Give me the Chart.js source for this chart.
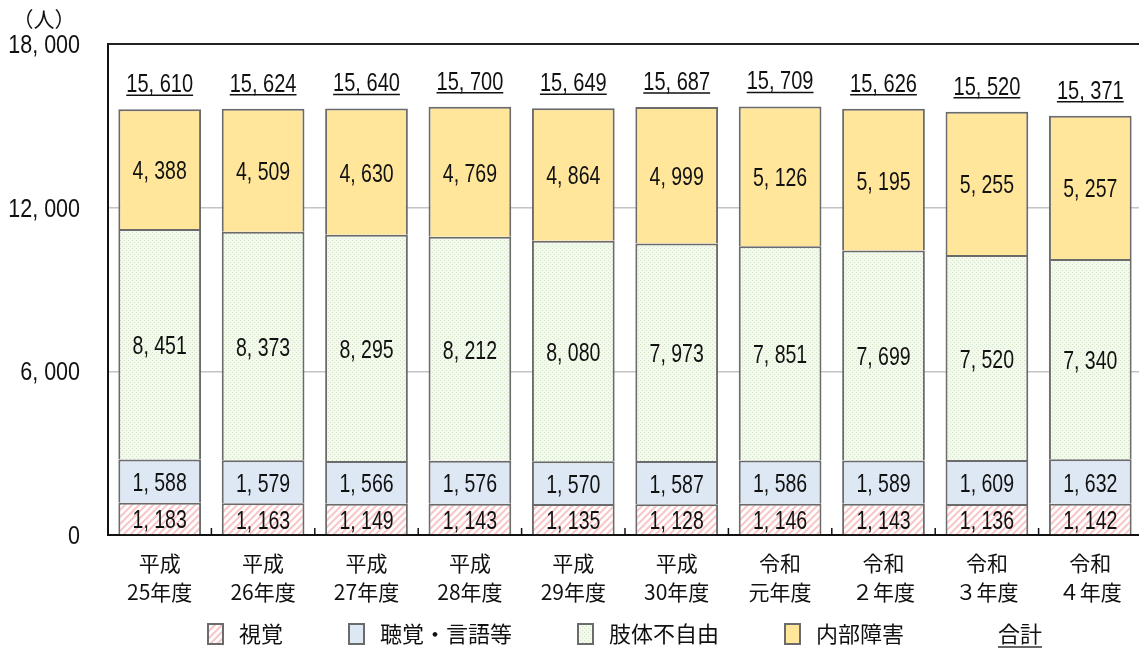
<!DOCTYPE html>
<html lang="ja">
<head>
<meta charset="utf-8">
<script src="https://cdn.jsdelivr.net/npm/chart.js@4"></script>
<style>
  html, body { margin: 0; padding: 0; background: #fff; overflow: hidden; }
  #wrap { width: 1150px; height: 648px; }
</style>
</head>
<body>
<div id="wrap"><canvas id="chart"></canvas></div>
<script>
const years = [
  ['平成', '25年度'], ['平成', '26年度'], ['平成', '27年度'], ['平成', '28年度'],
  ['平成', '29年度'], ['平成', '30年度'], ['令和', '元年度'], ['令和', '２年度'],
  ['令和', '３年度'], ['令和', '４年度'],
]
const sight = [1183, 1163, 1149, 1143, 1135, 1128, 1146, 1143, 1136, 1142]
const hearing = [1588, 1579, 1566, 1576, 1570, 1587, 1586, 1589, 1609, 1632]
const limbs = [8451, 8373, 8295, 8212, 8080, 7973, 7851, 7699, 7520, 7340]
const internal = [4388, 4509, 4630, 4769, 4864, 4999, 5126, 5195, 5255, 5257]
const totals = [15610, 15624, 15640, 15700, 15649, 15687, 15709, 15626, 15520, 15371]
const yTicks = [0, 6000, 12000, 18000]

const NUM_FONT = "'Liberation Sans', Arial, sans-serif"
const JP_FONT = "'Noto Sans CJK JP', sans-serif"
const EDGE = '#6b6b6b'

const canvas = document.getElementById('chart')
const ctx = canvas.getContext('2d')

// small tiles for the hatched / dotted fills
function makePattern(draw, size) {
  const c = document.createElement('canvas')
  c.width = size
  c.height = size
  draw(c.getContext('2d'), size)
  return ctx.createPattern(c, 'repeat')
}
const pinkHatch = makePattern((g, s) => {
  g.fillStyle = '#fff'
  g.fillRect(0, 0, s, s)
  g.strokeStyle = '#f8c6c6'
  g.lineWidth = 2
  g.beginPath()
  g.moveTo(-2, 2); g.lineTo(2, -2)
  g.moveTo(0, s); g.lineTo(s, 0)
  g.moveTo(s - 2, s + 2); g.lineTo(s + 2, s - 2)
  g.stroke()
}, 7)
const greenDots = makePattern((g, s) => {
  g.fillStyle = '#f4f9ef'
  g.fillRect(0, 0, s, s)
  g.fillStyle = '#d2e5c1'
  g.fillRect(0, 0, 1, 1)
  g.fillRect(2, 2, 1, 1)
}, 4)

const fmt = v => {
  const s = String(v)
  return s.length > 3 ? s.slice(0, -3) + ', ' + s.slice(-3) : s
}

// condensed number text: squeeze horizontally around the anchor
function narrowText(c, text, x, y, size, squeeze, align) {
  c.save()
  c.font = size + 'px ' + NUM_FONT
  c.textAlign = align
  c.translate(x, y)
  c.scale(squeeze, 1)
  c.fillText(text, 0, 0)
  const w = c.measureText(text).width * squeeze
  c.restore()
  return w
}

const barStyle = {
  borderColor: EDGE,
  borderWidth: { top: 2, left: 2, right: 2, bottom: 0 },
  borderSkipped: false,
  barPercentage: 0.8,
  categoryPercentage: 1,
}

const data = {
  labels: years,
  datasets: [
    { label: '視覚', data: sight, backgroundColor: pinkHatch, ...barStyle },
    { label: '聴覚・言語等', data: hearing, backgroundColor: '#dde8f4', ...barStyle },
    { label: '肢体不自由', data: limbs, backgroundColor: greenDots, ...barStyle },
    { label: '内部障害', data: internal, backgroundColor: '#ffe69b', ...barStyle },
  ],
}

// value labels, totals, y labels, inner x ticks, top frame, unit and legend
const decorate = {
  id: 'decorate',
  afterDatasetsDraw(chart) {
    const c = chart.ctx
    const area = chart.chartArea
    const x = chart.scales.x
    const y = chart.scales.y
    c.save()

    // top frame line
    c.strokeStyle = '#222'
    c.lineWidth = 2
    c.beginPath()
    c.moveTo(area.left, area.top)
    c.lineTo(area.right + 10, area.top)
    c.stroke()

    // small upward ticks between categories
    c.lineWidth = 1.5
    c.strokeStyle = '#111'
    for (let i = 1; i < years.length; i++) {
      const bx = (x.getPixelForTick(i - 1) + x.getPixelForTick(i)) / 2
      c.beginPath()
      c.moveTo(bx, area.bottom)
      c.lineTo(bx, area.bottom - 7)
      c.stroke()
    }

    c.fillStyle = '#111'
    c.textBaseline = 'alphabetic'

    // y tick labels
    yTicks.forEach(v => {
      narrowText(c, fmt(v), 80, y.getPixelForValue(v) + 9, 25, 0.86, 'right')
    })

    // segment values
    chart.data.datasets.forEach((ds, di) => {
      chart.getDatasetMeta(di).data.forEach((bar, i) => {
        narrowText(c, fmt(ds.data[i]), bar.x, (bar.y + bar.base) / 2 + 10, 25, 0.78, 'center')
      })
    })

    // totals, underlined
    const top = chart.getDatasetMeta(chart.data.datasets.length - 1).data
    c.lineWidth = 1.5
    c.strokeStyle = '#111'
    top.forEach((bar, i) => {
      const by = bar.y - 17
      const w = narrowText(c, fmt(totals[i]), bar.x, by, 26, 0.77, 'center')
      c.beginPath()
      c.moveTo(bar.x - w / 2, by + 3)
      c.lineTo(bar.x + w / 2, by + 3)
      c.stroke()
    })

    // unit
    c.font = '21px ' + JP_FONT
    c.textAlign = 'center'
    c.textBaseline = 'middle'
    c.fillText('（人）', 44, 19)

    // legend
    c.font = '22px ' + JP_FONT
    c.textAlign = 'left'
    const ly = 634
    let lx = 208
    chart.data.datasets.forEach(ds => {
      c.fillStyle = ds.backgroundColor
      c.fillRect(lx, ly - 10, 15, 20)
      c.strokeStyle = EDGE
      c.lineWidth = 2
      c.strokeRect(lx, ly - 10, 15, 20)
      c.fillStyle = '#111'
      c.fillText(ds.label, lx + 31, ly)
      lx += 31 + c.measureText(ds.label).width + 66
    })
    lx += 28
    const tw = c.measureText('合計').width
    c.fillText('合計', lx, ly)
    c.strokeStyle = '#333'
    c.lineWidth = 1.5
    c.beginPath()
    c.moveTo(lx, ly + 13)
    c.lineTo(lx + tw, ly + 13)
    c.stroke()

    c.restore()
  },
}

const config = {
  type: 'bar',
  data: data,
  options: {
    responsive: true,
    maintainAspectRatio: false,
    animation: false,
    layout: { padding: { top: 44, right: 8, left: 0, bottom: 0 } },
    plugins: {
      legend: { display: false },
      tooltip: { enabled: false },
    },
    scales: {
      x: {
        stacked: true,
        grid: { display: false },
        border: { color: '#111', width: 2 },
        ticks: {
          color: '#111',
          font: { family: JP_FONT, size: 21, lineHeight: 1.4 },
          padding: 5,
          maxRotation: 0,
        },
        afterFit: s => { s.height = 113 },
      },
      y: {
        stacked: true,
        min: 0,
        max: 18000,
        afterBuildTicks: s => { s.ticks = yTicks.map(v => ({ value: v })) },
        grid: {
          drawTicks: false,
          color: ctx => (ctx.tick && (ctx.tick.value === 0 || ctx.tick.value === 18000)) ? 'rgba(0,0,0,0)' : '#c4c4c4',
          lineWidth: 1.5,
        },
        border: { color: '#111', width: 2 },
        ticks: { display: false },
        afterFit: s => { s.width = 108 },
      },
    },
  },
  plugins: [decorate],
}

new Chart(ctx, config)
</script>
</body>
</html>
